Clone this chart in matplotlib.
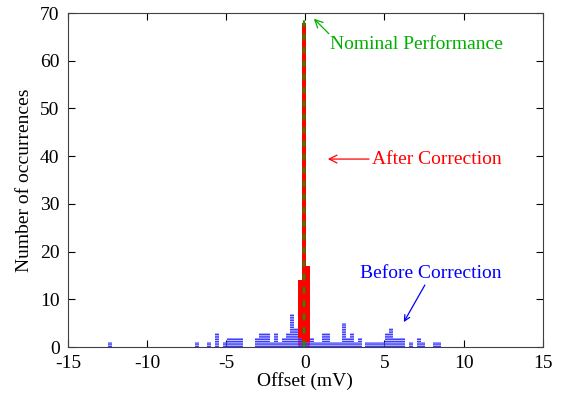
import numpy as np
import matplotlib
matplotlib.use("Agg")
import matplotlib.pyplot as plt

# histogram bins are 0.25 mV wide
bin_width = 0.25

# before correction (blue)
before_centers = [-12.325, -6.825, -6.075, -5.575, -5.075, -4.825, -4.575, -4.325, -4.075,
                  -3.075, -2.825, -2.575, -2.325, -2.075, -1.825, -1.575, -1.325, -1.075,
                  -0.825, -0.575, -0.325, -0.075, 0.175, 0.425, 0.675, 0.925, 1.175, 1.425,
                  1.675, 1.925, 2.175, 2.425, 2.675, 2.925, 3.175, 3.425, 3.925, 4.175,
                  4.425, 4.675, 4.925, 5.175, 5.425, 5.675, 5.925, 6.175, 6.675, 7.175,
                  7.425, 8.175, 8.425]
before_counts = [1, 1, 1, 3, 1, 2, 2, 2, 2,
                 2, 3, 3, 3, 1, 3, 1, 2, 3,
                 7, 4, 2, 1, 1, 2, 1, 1, 3, 3,
                 1, 1, 1, 5, 2, 3, 1, 2, 1, 1,
                 1, 1, 1, 3, 4, 2, 2, 2, 1, 2,
                 1, 1, 1]

# after correction (red)
after_centers = [-0.325, -0.075, 0.175]
after_counts = [14, 68, 17]

nominal = -0.08

plt.rcParams['font.family'] = ['Liberation Serif', 'DejaVu Serif']
plt.rcParams['axes.unicode_minus'] = False
plt.rcParams['hatch.linewidth'] = 1.0

fig = plt.figure(figsize=(5.75, 3.94), dpi=100)
ax = fig.add_axes([0.118, 0.119, 0.826, 0.848])

ax.bar(after_centers, after_counts, width=bin_width, color='#ff0000', linewidth=0, zorder=2)
ax.bar(before_centers, before_counts, width=bin_width, facecolor=(0.6, 0.6, 1.0, 0.5),
       edgecolor=(0.1, 0.1, 1.0, 0.8), linewidth=0, hatch='-------', zorder=3)
ax.axvline(nominal, color='#00a000', linestyle=(0, (3, 3)), linewidth=1.6, zorder=4)

ax.annotate('Nominal Performance', xy=(0.54, 68.8), xytext=(1.55, 63.3),
            color='#00b000', fontsize=14, va='center', ha='left',
            arrowprops=dict(arrowstyle='->', color='#00b000', lw=0.9,
                            shrinkA=0, shrinkB=0, relpos=(0.03, 0.8)))
ax.annotate('After Correction', xy=(1.42, 39.4), xytext=(4.2, 39.4),
            color='#ff0000', fontsize=14, va='center', ha='left',
            arrowprops=dict(arrowstyle='->', color='#ff0000', lw=0.9,
                            shrinkA=0, shrinkB=0, relpos=(0.0, 0.5)))
ax.text(7.9, 15.5, 'Before Correction', color='#0000ff', fontsize=14, ha='center', va='center')
ax.annotate('', xy=(6.22, 5.24), xytext=(7.55, 13.0),
            arrowprops=dict(arrowstyle='->', color='#0000ff', lw=0.9, shrinkA=0, shrinkB=0))

ax.set_xlim(-15, 15)
ax.set_ylim(0, 70)
ax.set_xticks(np.arange(-15, 16, 5))
ax.set_yticks(np.arange(0, 71, 10))
ax.tick_params(direction='in', top=True, right=True, length=5, labelsize=14, pad=6)
ax.set_xlabel('Offset (mV)', fontsize=14, labelpad=0)
ax.set_ylabel('Number of occurrences', fontsize=14, labelpad=5)
for s in ax.spines.values():
    s.set_color('#404040')

fig.savefig('out.png', dpi=100)
